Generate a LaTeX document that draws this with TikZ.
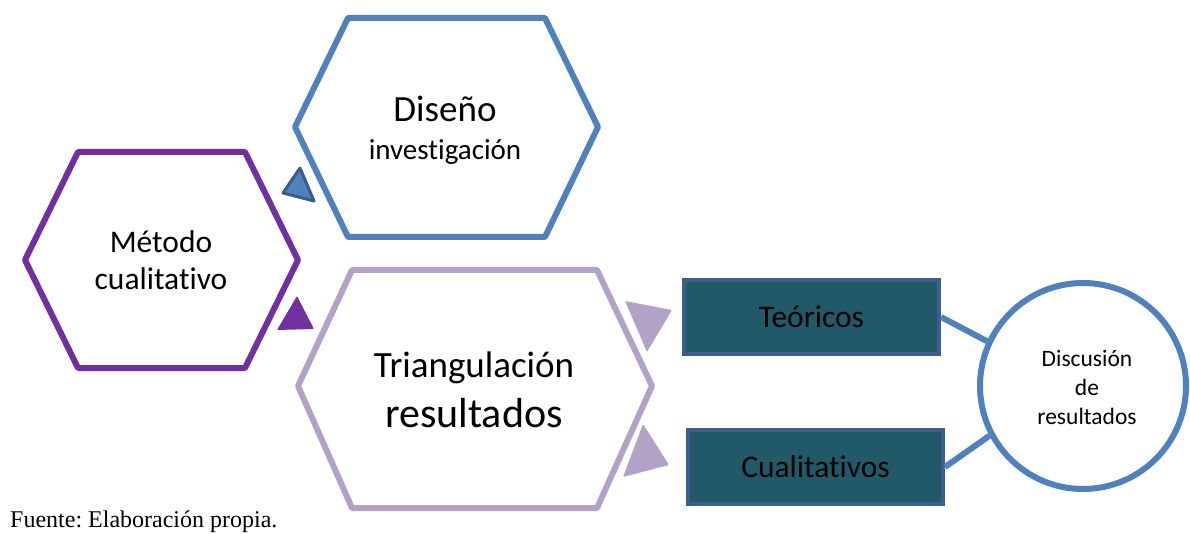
\documentclass[tikz,border=0pt]{standalone}
\usepackage{fontspec}
\setmainfont{Carlito}[Ligatures=NoCommon]
\newfontfamily\timesf{Liberation Serif}
\frenchspacing
\definecolor{hexblue}{HTML}{4F81BD}
\definecolor{hexpurple}{HTML}{7030A0}
\definecolor{hexlav}{HTML}{B3A2C7}
\definecolor{boxfill}{HTML}{215968}
\definecolor{boxborder}{HTML}{3B5E8C}
\definecolor{tridark}{HTML}{385D8A}
\tikzset{
  hexline/.style={line width=6pt, line join=round},
  tri/.style={line join=round, line width=3pt},
  resbox/.style={draw=boxborder, fill=boxfill, line width=4pt, rectangle,
    minimum width=255pt, minimum height=74pt, inner sep=0pt, font=\fontsize{31.5}{34}\selectfont},
  disc/.style={draw=hexblue, line width=6pt, circle, minimum size=206pt, inner sep=0pt},
  conn/.style={draw=hexblue, line width=6pt},
  lbl/.style={anchor=base, inner sep=0pt},
}
\begin{document}
\begin{tikzpicture}[x=1pt,y=-1pt]
\useasboundingbox (0,0) rectangle (1190,534);
% hexagons
\draw[hexline, draw=hexblue] (295,127) -- (348,18) -- (545,18) -- (598,127) -- (545,237) -- (348,237) -- cycle;
\draw[hexline, draw=hexpurple] (25,260) -- (78,152) -- (245,152) -- (298,260) -- (245,368) -- (78,368) -- cycle;
\draw[hexline, draw=hexlav] (298,386) -- (352,270) -- (597,270) -- (652,386) -- (597,508) -- (352,508) -- cycle;
% triangles
\draw[tri, draw=tridark, fill=hexblue] (300,168) -- (283,193) -- (314,201) -- cycle;
\fill[hexpurple, rounded corners=1pt] (297,296) -- (277,330) -- (314,329) -- cycle;
\fill[hexlav, rounded corners=1pt] (625,301) -- (672,310) -- (647,352) -- cycle;
\fill[hexlav, rounded corners=1pt] (643,424) -- (623,477) -- (669,465) -- cycle;
% texts in hexagons
\node[lbl, font=\fontsize{37}{40}\selectfont] (dis) at (445,122) {Diseño};
\node[lbl, font=\fontsize{29}{32}\selectfont] (inv) at (445,160) {investigación};
\node[lbl, font=\fontsize{31.5}{34}\selectfont] (met) at (161,253) {Método};
\node[lbl, font=\fontsize{31.5}{34}\selectfont] (cua) at (161,290) {cualitativo};
\node[lbl, font=\fontsize{37}{40}\selectfont] (tri) at (474,377) {Triangulación};
\node[lbl, font=\fontsize{42}{46}\selectfont] (res) at (474,427) {resultados};
% boxes and circle
\node[resbox] (teo) at (811.5,317) {Teóricos};
\node[resbox] (cual) at (815.5,467) {Cualitativos};
\node[disc] (circ) at (1083,386) {};
\node[lbl, font=\fontsize{23.5}{26}\selectfont] (d1) at (1087,366) {Discusión};
\node[lbl, font=\fontsize{23.5}{26}\selectfont] (d2) at (1087,395) {de};
\node[lbl, font=\fontsize{23.5}{26}\selectfont] (d3) at (1087,424) {resultados};
\draw[conn] (teo.east) -- (circ.155);
\draw[conn] (cual.east) -- (circ.208);
% source
\node[anchor=base west, inner sep=0pt, font=\timesf\fontsize{24}{27}\selectfont] (src) at (10,527) {Fuente: Elaboración propia.};
\end{tikzpicture}
\end{document}
